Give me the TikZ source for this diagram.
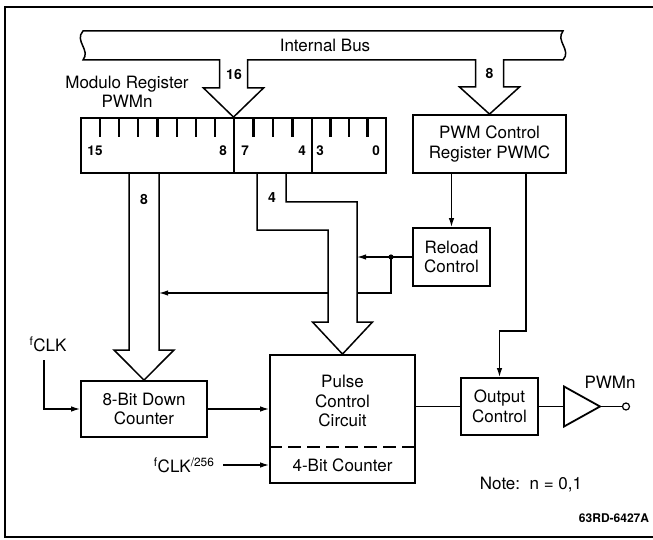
\documentclass[tikz,border=0pt]{standalone}
\usepackage{fontspec}
\setmainfont{TeX Gyre Heros}
\usetikzlibrary{arrows.meta}

\tikzset{
  box/.style={draw,line width=1.8pt,inner sep=0pt,align=center},
  wire/.style={line width=1.3pt},
  sig/.style={wire,-{Latex[length=9pt,width=5.5pt]}},
  bus/.style={line width=1.5pt,line join=miter},
  tick/.style={line width=2.2pt},
  bitno/.style={font=\bfseries\fontsize{13.5}{15}\selectfont},
  buswidth/.style={font=\bfseries\fontsize{14}{16}\selectfont},
}

\begin{document}
\begin{tikzpicture}[x=1pt,y=-1pt,font=\fontsize{17}{19.5}\selectfont]
  \useasboundingbox (0,0) rectangle (653,540);
  \draw[line width=1.4pt] (653,7) -- (5,7) -- (5,537) -- (653,537);

  \node[box,minimum width=153pt,minimum height=58pt] (pwmc) at (489.5,144) {PWM Control\\Register PWMC};
  \node[box,minimum width=77pt,minimum height=58pt] (reload) at (451.5,257) {Reload\\Control};
  \node[box,minimum width=126pt,minimum height=56pt] (downcnt) at (144,409) {8-Bit Down\\Counter};
  \node[box,minimum width=145pt,minimum height=128pt] (pulse) at (342.5,419) {};
  \node[align=center] (pulsetxt) at (342.5,401) {Pulse\\Control\\Circuit};
  \node (cnt4) at (342.5,465) {4-Bit Counter};
  \node[box,minimum width=77pt,minimum height=57pt] (outctl) at (499.5,406.5) {Output\\Control};
  \coordinate (dash) at (0,447);
  \draw[line width=1.8pt,dash pattern=on 13pt off 6pt]
    (pulse.west |- dash) -- (pulse.east |- dash);

  \coordinate (jn) at (391,257);
  \draw[sig] (reload.west) -- (357,257);
  \fill (jn) circle (2.6pt);
  \draw[sig] (jn) -- (391,293) -- (159,293);

  \draw[bus,fill=white] (257,173) -- (257,230) -- (328,230) -- (328,322)
    -- (312.5,322) -- (pulse.north) -- (372.5,322) -- (357,322)
    -- (357,202) -- (286,202) -- (286,173);
  \node[buswidth] (w4) at (272,198) {4};

  \node[box,minimum width=305pt,minimum height=55pt] (modreg) at (233.5,145.5) {};
  \node[align=center] (modname) at (127,92) {Modulo Register\\PWMn};
  \foreach \x in {234,312}
    \draw[box] (\x,118) -- (\x,173);
  \foreach \k in {1,...,7}
    \draw[tick] (81+\k*19.125,118) -- ++(0,19);
  \foreach \k in {1,2,3}
    \draw[tick] (234+\k*19.5,118) -- ++(0,19);
  \foreach \k in {1,2,3}
    \draw[tick] (312+\k*18.5,118) -- ++(0,19);
  \foreach \x/\b in {95/15,223/8,245/7,302/4,320/3,376/0}
    \node[bitno] (bit\b) at (\x,151) {\b};

  \draw[bus] (83,31) -- (563,31) .. controls (555,41) and (572,50) .. (563,60)
    -- (503.5,60) -- (503.5,87) -- (519.5,87) -- (pwmc.north)
    -- (459.5,87) -- (475.5,87) -- (475.5,60)
    -- (247.5,60) -- (247.5,88) -- (263.5,88) -- (modreg.north)
    -- (203.5,88) -- (219.5,88) -- (219.5,60)
    -- (83,60) .. controls (91,50) and (74,41) .. (83,31) -- cycle;
  \node (busname) at (325,45) {Internal Bus};
  \node[buswidth] (w16) at (234,74) {16};
  \node[buswidth] (w8a) at (489.5,73) {8};

  \draw[bus] (129,173) -- (129,350) -- (114,350) -- (downcnt.north)
    -- (174,350) -- (159,350) -- (159,173);
  \node[buswidth] (w8b) at (144,199) {8};

  \draw[sig] (reload.north |- pwmc.south) -- (reload.north);
  \coordinate (bend) at (526,331);
  \draw[sig] (pwmc.south -| bend) -- (bend) -- (bend -| outctl.north) -- (outctl.north);

  \node (fclk) at (48,344) {\textsuperscript{f}CLK};
  \draw[sig] (44,360) |- (downcnt.west);
  \draw[sig] (downcnt.east) -- (downcnt.east -| pulse.west);
  \node[anchor=east] (fclkdiv) at (218,465) {\textsuperscript{f}CLK\textsuperscript{/256}};
  \draw[sig] ([xshift=5pt]fclkdiv.east) -- (pulse.west |- fclkdiv.east);

  \draw[wire] (outctl.west -| pulse.east) -- (outctl.west);
  \coordinate (bufin) at (564,406.5);
  \draw[wire] (outctl.east) -- (bufin);
  \draw[box,line join=miter] (bufin) -- ++(0,-20) -- ++(36,20) coordinate (bufout)
    -- ++(-36,20) -- cycle;
  \node[draw,circle,line width=1.2pt,inner sep=0pt,minimum size=7pt] (pin) at (626,406.5) {};
  \draw[wire] (bufout) -- (pin.west);
  \node (pwmn) at (610,382) {PWMn};

  \node (note) at (531,485) {Note:\ \ n = 0,1};
  \node[font=\bfseries\fontsize{12}{14}\selectfont] (figid) at (614,518) {63RD-6427A};
\end{tikzpicture}
\end{document}
